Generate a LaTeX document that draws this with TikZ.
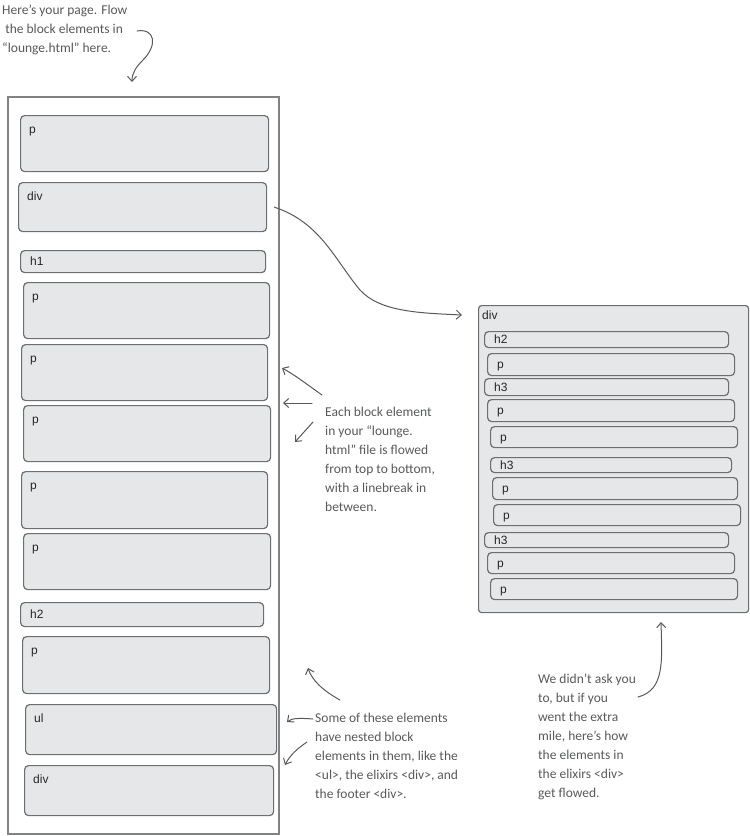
\documentclass[tikz,border=0pt]{standalone}
\usepackage{fontspec}
\newfontfamily\handfont{Carlito}
\newfontfamily\tagfont{Liberation Sans}
\usepackage{xcolor}
\usepackage{tikz}
\usetikzlibrary{arrows.meta, positioning}
\definecolor{boxfill}{HTML}{E6E7E8}
\definecolor{boxline}{HTML}{6D6E71}
\definecolor{pageline}{HTML}{808285}
\definecolor{ink}{HTML}{58595B}

\begin{document}
\begin{tikzpicture}[
		x=1pt, y=-1pt,
		page/.style={rectangle, draw=pageline, line width=1.5pt, anchor=north west, inner sep=0pt},
		blk/.style={rectangle, draw=boxline, line width=1.2pt, fill=boxfill, rounded corners=4pt, anchor=north west, inner sep=0pt},
		tag/.style={font=\fontsize{12}{14}\selectfont\tagfont, text=black!85, inner sep=0pt, text height=8.5pt, text depth=2.5pt},
		slimtag/.style={tag, anchor=west, text depth=0pt},
		note/.style={font=\fontsize{13.5}{19}\selectfont\handfont, text=ink, align=left, inner sep=0pt, anchor=north west},
		arrow/.style={-{Straight Barb[length=5pt, width=9pt]}, draw=ink, line width=1pt, line cap=round}
		]
		\useasboundingbox (0,0) rectangle (750,836);
		% Page
		\node[page, minimum width=271pt, minimum height=737pt] (page) at (7,96) {};
		
		% Block elements of the page
		\foreach \n/\x/\y/\w/\h/\t in {1/20/115/248/56/p, 2/18/182/248/49/div, 4/23/282/246/56/p, 5/21/344/246/56/p, 6/23/405/247/56/p, 7/21/471/246/57/p, 8/23/533/247/56/p, 10/22/636/247/57/p, 11/25/704/251/50/ul, 12/24/765/249/50/div}{
			\node[blk, minimum width=\w pt, minimum height=\h pt] (L\n) at (\x,\y) {};
			\node[tag, anchor=north west] (L\n-t) at ([xshift=9pt, yshift=-10pt]L\n.north west) {\t};
		}
		\foreach \n/\x/\y/\w/\h/\t in {3/20/250/245/22/h1, 9/20/602/243/24/h2}{
			\node[blk, minimum width=\w pt, minimum height=\h pt] (L\n) at (\x,\y) {};
			\node[slimtag] (L\n-t) at ([xshift=10pt]L\n.west) {\t};
		}
		
		% Elixirs div
		\node[blk, rounded corners=3pt, minimum width=270pt, minimum height=307pt] (R) at (478,305) {};
		\node[tag, anchor=north west] (R-t) at ([xshift=4pt, yshift=-6pt]R.north west) {div};
		\foreach \n/\x/\y/\w/\h/\t in {1/484/331/244/16/h2, 2/487/353/247/22/p, 3/484/378/244/17/h3, 4/487/399/247/22/p, 5/490/426/247/21/p, 6/490/457/241/15/h3, 7/492/477/245/22/p, 8/493/504/247/21/p, 9/484/532/244/15/h3, 10/487/552/247/21/p, 11/490/578/247/21/p}{
			\node[blk, minimum width=\w pt, minimum height=\h pt] (R\n) at (\x,\y) {};
			\node[slimtag] (R\n-t) at ([xshift=10pt]R\n.west) {\t};
		}
		
		% Notes
		\node[note] (n1) at (2,5) {Here’s your page. Flow\\ \ the block elements in\\“lounge.html” here.};
		\node[note] (n2) at (325,407) {Each block element\\in your “lounge.\\html” file is flowed\\from top to bottom,\\with a linebreak in\\between.};
		\node[note] (n3) at (315,713) {Some of these elements\\have nested block\\elements in them, like the\\<ul>, the elixirs <div>, and\\the footer <div>.};
		\node[note] (n4) at (538,674) {We didn’t ask you\\to, but if you\\went the extra\\mile, here’s how\\the elements in\\the elixirs <div>\\get flowed.};
		
		% Arrow ends
		\coordinate (a1) at (137,31);
		\coordinate (a2) at (132,82);
		\coordinate (b1) at (322,395);
		\coordinate (b2) at (282,368);
		\coordinate (b3) at (312,403);
		\coordinate (b4) at (283,403);
		\coordinate (b5) at (313,422);
		\coordinate (b6) at (295,442);
		\coordinate (c1) at (340,700);
		\coordinate (c2) at (308,668);
		\coordinate (c3) at (313,719);
		\coordinate (c4) at (287,722);
		\coordinate (c5) at (307,742);
		\coordinate (c6) at (285,765);
		\coordinate (d1) at (638,697);
		\coordinate (d2) at (661,622);
		
		% Arrows
		\draw[arrow] (a1) .. controls (155,28) and (158,45) .. (143,60) .. controls (136,67) and (132,73) .. (a2);
		\draw[arrow] ([xshift=7pt]L2.east) .. controls (320,222) and (335,260) .. (360,290) .. controls (380,312) and (420,313) .. ([xshift=-16pt, yshift=-10pt]R.north west);
		\draw[arrow] (b1) .. controls (305,383) and (295,375) .. (b2);
		\draw[arrow] (b3) -- (b4);
		\draw[arrow] (b5) -- (b6);
		\draw[arrow] (c1) .. controls (322,690) and (312,680) .. (c2);
		\draw[arrow] (c3) .. controls (300,718) and (292,718) .. (c4);
		\draw[arrow] (c5) .. controls (298,748) and (290,755) .. (c6);
		\draw[arrow] (d1) .. controls (665,690) and (662,660) .. (d2);
	\end{tikzpicture}
\end{document}
